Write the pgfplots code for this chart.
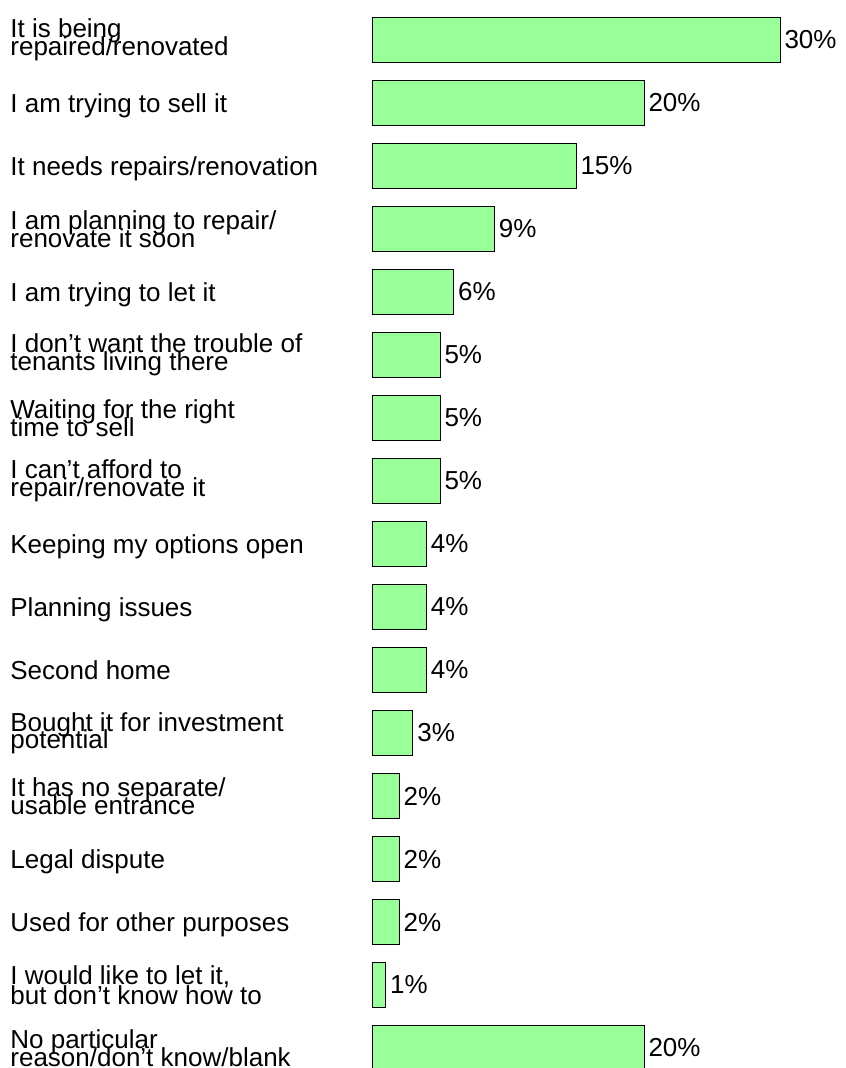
\documentclass[border=0pt]{standalone}
\usepackage{pgfplots}
\pgfplotsset{compat=1.18}
\usepackage{fontspec}
\setmainfont{Liberation Sans}
\definecolor{barfill}{RGB}{153,255,153}
\newcommand{\lblfont}{\fontsize{13}{8.75}\selectfont\lineskiplimit=-\maxdimen\lineskip=0pt}
\newcommand{\sst}{\rule[-2.7pt]{0pt}{15.1pt}}
\begin{document}
\begin{tikzpicture}
\begin{axis}[
  x=6.8pt, y=31.5pt, y dir=reverse,
  xmin=0, xmax=31, ymin=-0.6, ymax=16.4,
  xbar, bar width=22.25pt, bar shift=0pt,
  axis line style={draw=none},
  xtick=\empty,
  ytick={0,...,16},
  yticklabels={
    {It is being\\repaired/renovated},
    {\sst I am trying to sell it},
    {\sst It needs repairs/renovation},
    {I am planning to repair/\\renovate it soon},
    {\sst I am trying to let it},
    {I don’t want the trouble of\\tenants living there},
    {Waiting for the right\\time to sell},
    {I can’t afford to\\repair/renovate it},
    {\sst Keeping my options open},
    {\sst Planning issues},
    {\sst Second home},
    {Bought it for investment\\potential},
    {It has no separate/\\usable entrance},
    {\sst Legal dispute},
    {\sst Used for other purposes},
    {I would like to let it,\\[1pt]but don’t know how to},
    {No particular\\reason/don’t know/blank}
  },
  major tick length=0pt,
  tick label style={font=\lblfont},
  yticklabel style={anchor=west, align=left, inner sep=0pt, xshift=-181pt},
  /pgf/number format/assume math mode=true,
  nodes near coords={\pgfmathprintnumber[assume math mode=true]{\pgfplotspointmeta}\%},
  nodes near coords style={anchor=west, inner sep=0pt, xshift=2pt, font=\lblfont},
  clip=false,
]
\addplot[draw=black, line width=0.5pt, fill=barfill] coordinates {
  (30,0) (20,1) (15,2) (9,3) (6,4) (5,5) (5,6) (5,7) (4,8) (4,9) (4,10)
  (3,11) (2,12) (2,13) (2,14) (1,15) (20,16)
};
\coordinate (tl) at (axis cs:-27.353,-0.635);
\coordinate (br) at (axis cs:34.78,16.317);
\end{axis}
\pgfresetboundingbox
\path[use as bounding box] (tl) rectangle (br);
\end{tikzpicture}
\end{document}
